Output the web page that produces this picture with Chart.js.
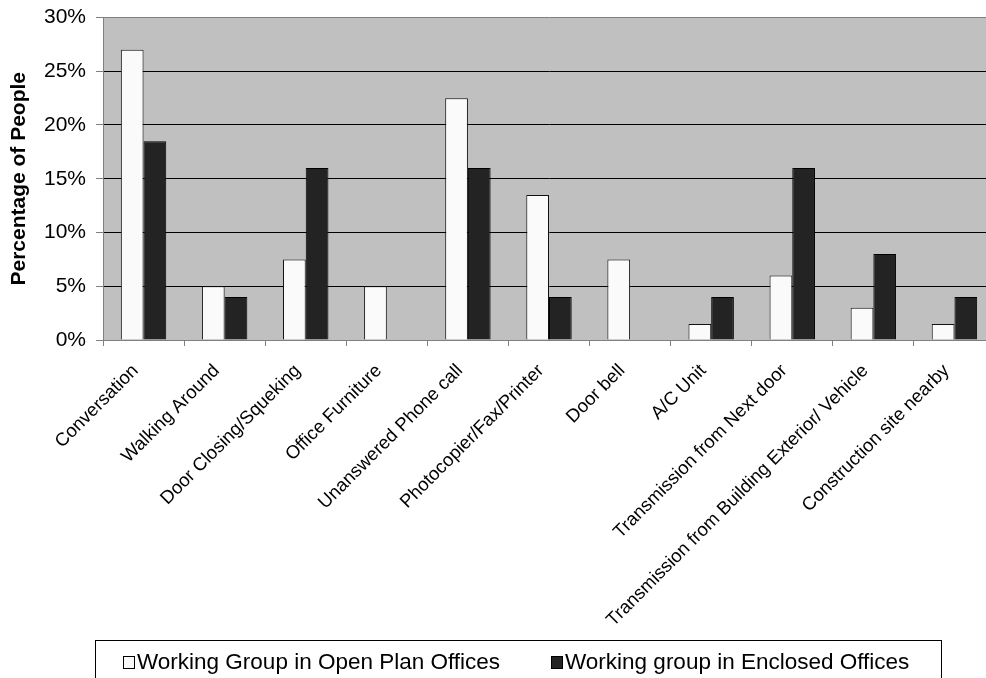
<!DOCTYPE html>
<html>
<head>
<meta charset="utf-8">
<title>Noise sources</title>
<script src="https://cdn.jsdelivr.net/npm/chart.js"></script>
<style>
  html, body { margin: 0; padding: 0; background: #fff; overflow: hidden; }
  #chart { display: block; }
</style>
</head>
<body>
<canvas id="chart" width="1000" height="678"></canvas>
<script>
const categories = [
  "Conversation",
  "Walking Around",
  "Door Closing/Squeking",
  "Office Furniture",
  "Unanswered Phone call",
  "Photocopier/Fax/Printer",
  "Door bell",
  "A/C Unit",
  "Transmission from Next door",
  "Transmission from Building Exterior/ Vehicle",
  "Construction site nearby",
];

const openPlan = [0.27, 0.05, 0.075, 0.05, 0.225, 0.135, 0.075, 0.015, 0.06, 0.03, 0.015];
const enclosed = [0.185, 0.04, 0.16, 0, 0.16, 0.04, 0, 0.04, 0.16, 0.08, 0.04];

const yTicks = [0, 0.05, 0.1, 0.15, 0.2, 0.25, 0.3];

const FONT = "'Liberation Sans', Arial, sans-serif";

// grey plot background like the old spreadsheet charts
const plotBackground = {
  id: "plotBackground",
  beforeDraw(chart) {
    const { ctx, chartArea: a } = chart;
    ctx.save();
    ctx.fillStyle = "#c0c0c0";
    ctx.fillRect(a.left, a.top, a.right - a.left, a.bottom - a.top);
    ctx.restore();
  },
};

// boxed legend under the chart
const boxLegend = {
  id: "boxLegend",
  afterDraw(chart) {
    const ctx = chart.ctx;
    ctx.save();
    ctx.strokeStyle = "#000";
    ctx.lineWidth = 1;
    ctx.strokeRect(95.5, 640.5, 846, 60);
    ctx.font = "22.5px " + FONT;
    ctx.textBaseline = "alphabetic";
    const base = 669;
    const starts = [123, 551];
    chart.data.datasets.forEach((ds, i) => {
      const x = starts[i];
      ctx.fillStyle = ds.backgroundColor;
      ctx.fillRect(x + 0.5, base - 12.5, 11, 12);
      ctx.strokeStyle = "#000";
      ctx.strokeRect(x + 0.5, base - 12.5, 11, 12);
      ctx.fillStyle = "#000";
      ctx.fillText(ds.label, x + 14, base);
    });
    ctx.restore();
  },
};

new Chart(document.getElementById("chart"), {
  type: "bar",
  data: {
    labels: categories,
    datasets: [
      {
        label: "Working Group in Open Plan Offices",
        data: openPlan,
        backgroundColor: "#fafafa",
        borderColor: "#111",
        borderWidth: 1,
      },
      {
        label: "Working group in Enclosed Offices",
        data: enclosed,
        backgroundColor: "#232323",
        borderColor: "#000",
        borderWidth: 1,
      },
    ],
  },
  options: {
    responsive: false,
    animation: false,
    events: [],
    layout: { padding: { left: 0, right: 5, top: 17.5, bottom: 0 } },
    datasets: {
      bar: { barPercentage: 1, categoryPercentage: 0.56 },
    },
    plugins: {
      legend: { display: false },
      tooltip: { enabled: false },
    },
    scales: {
      x: {
        grid: {
          offset: true,
          drawOnChartArea: false,
          drawTicks: true,
          tickLength: 6,
          tickColor: "#808080",
        },
        border: { color: "#808080", width: 1 },
        ticks: {
          autoSkip: false,
          minRotation: 45,
          maxRotation: 45,
          labelOffset: -8,
          color: "#000",
          padding: 14,
          font: { family: FONT, size: 18.5 },
        },
        afterFit(scale) {
          scale.height = 338;
          scale.paddingLeft = 0;
          scale.paddingRight = 0;
        },
      },
      y: {
        min: 0,
        max: 0.3,
        afterBuildTicks(scale) {
          scale.ticks = yTicks.map((v) => ({ value: v }));
        },
        grid: {
          color: (c) => (c.tick && c.tick.value === 0.3 ? "#808080" : "#000"),
          tickColor: "#808080",
          tickLength: 7,
        },
        border: { color: "#808080", width: 1 },
        ticks: {
          color: "#000",
          padding: 10,
          font: { family: FONT, size: 21 },
          callback: (v) => Math.round(v * 100) + "%",
        },
        title: {
          display: true,
          text: "Percentage of People",
          color: "#000",
          padding: { top: 6.5, bottom: 0 },
          font: { family: FONT, size: 21, weight: "bold" },
        },
        afterFit(scale) {
          scale.width = 103;
          scale.paddingTop = 0;
          scale.paddingBottom = 0;
        },
      },
    },
  },
  plugins: [plotBackground, boxLegend],
});
</script>
</body>
</html>
